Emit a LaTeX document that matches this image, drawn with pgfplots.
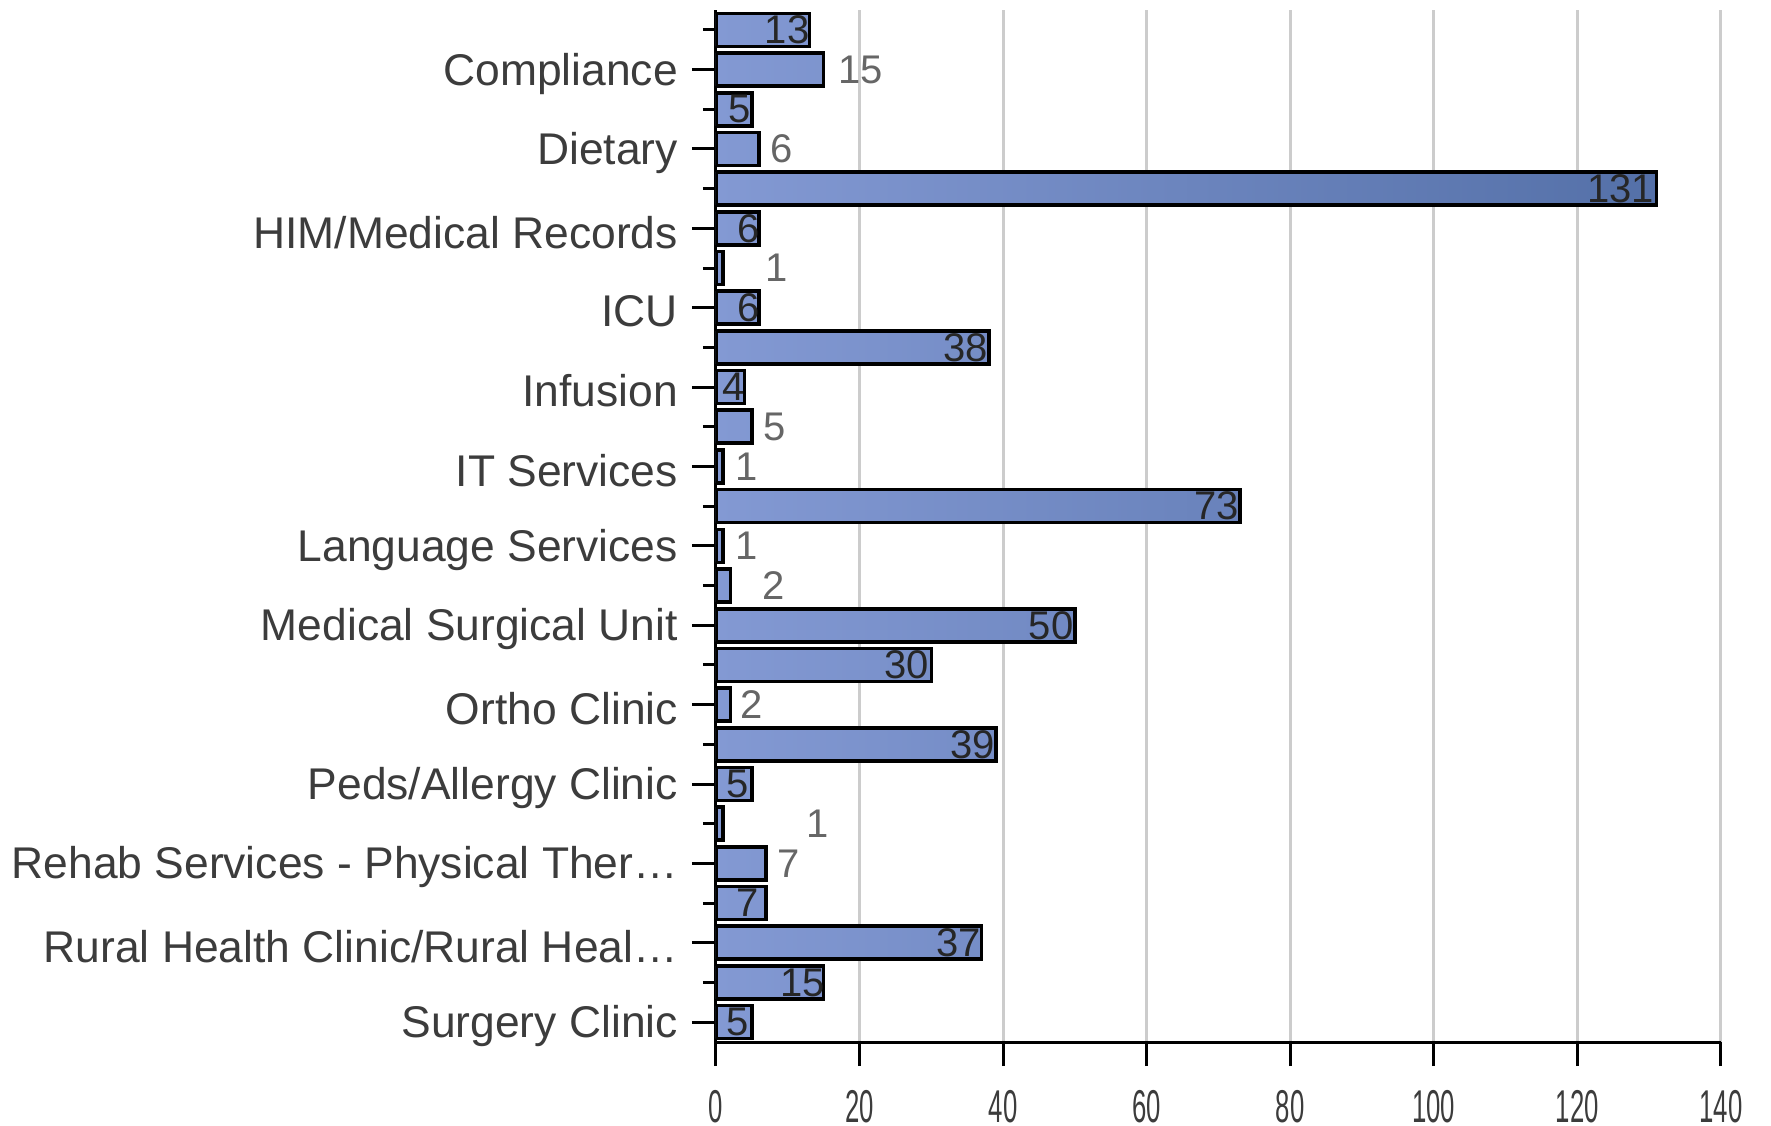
\documentclass[border=0pt]{standalone}
\usepackage{fontspec}
\setmainfont{Liberation Sans}
\usepackage{graphicx}
\usepackage{pgfplots}
\usepackage{pgfplotstable}
\pgfplotsset{compat=1.18}

\definecolor{barL}{HTML}{8399D3}
\definecolor{barR}{HTML}{5470A8}
\definecolor{gridc}{HTML}{CCCCCC}
\definecolor{txt}{HTML}{3C3C3C}
\definecolor{tickgrey}{HTML}{8C8C8C}

% one row per bar, top to bottom
\pgfplotstableread{
y x
0 13
1 15
2 5
3 6
4 131
5 6
6 1
7 6
8 38
9 4
10 5
11 1
12 73
13 1
14 2
15 50
16 30
17 2
18 39
19 5
20 1
21 7
22 7
23 37
24 15
25 5
}\bars

% value labels drawn on the bar end
\pgfplotstableread{
y x lbl
0 9.9 13
2 3.3 5
4 126.0 131
5 4.6 6
7 4.6 6
8 34.8 38
9 2.5 4
12 69.7 73
15 46.7 50
16 26.6 30
18 35.7 39
19 3.0 5
22 4.4 7
23 33.8 37
24 12.1 15
25 3.0 5
}\inlabels

% value labels set beside the bar
\pgfplotstableread{
y x lbl
1 20.1 15
3 9.1 6
6 8.5 1
10 8.2 5
11 4.2 1
13 4.2 1
14 8.0 2
17 5.0 2
20 14.2 1
21 10.1 7
}\outlabels

\begin{document}
\begin{tikzpicture}
\useasboundingbox (-179pt,-21pt) rectangle (263.75pt,260.5pt);
\begin{axis}[
  at={(0,0)}, anchor=south west,
  scale only axis, width=251.25pt, height=258pt,
  xmin=0, xmax=140, ymin=-0.5, ymax=25.5, y dir=reverse,
  axis x line*=bottom, axis y line*=left,
  axis line style={line width=0.75pt, -},
  xtick={0,20,...,140},
  xmajorgrids, grid style={gridc, line width=0.75pt},
  tick align=outside,
  xtick style={black, line width=0.75pt},
  /pgf/number format/assume math mode=true,
  x tick label style={font=\fontsize{11.5}{12}\selectfont, text=txt, yshift=-2.5pt},
  xticklabel={\scalebox{0.56}[1]{\pgfmathprintnumber{\tick}}},
  ytick={1,3,...,25},
  yticklabels={{Compliance}, {Dietary}, {HIM/Medical Records}, {ICU}, {Infusion},
    {IT Services}, {Language Services}, {Medical Surgical Unit}, {Ortho Clinic},
    {Peds/Allergy Clinic}, {Rehab Services - Physical Ther\ldots},
    {Rural Health Clinic/Rural Heal\ldots}, {Surgery Clinic}},
  ytick style={black, line width=0.75pt},
  y tick label style={font=\fontsize{11.1}{12}\selectfont, text=txt, yshift=-1pt},
  major tick length=6pt,
  extra y ticks={0,2,...,24},
  extra y tick labels={},
  extra y tick style={major tick length=3.25pt, tick style={tickgrey, line width=0.75pt}},
]
\addplot[xbar, bar width=8.25pt, draw=black, line width=0.9pt,
  left color=barL, right color=barR] table[x=x, y=y] {\bars};
\addplot[only marks, mark=none, nodes near coords, point meta=explicit symbolic,
  nodes near coords style={anchor=center, font=\fontsize{10}{12}\selectfont, text=black!85}]
  table[x=x, y=y, meta=lbl] {\inlabels};
\addplot[only marks, mark=none, nodes near coords, point meta=explicit symbolic,
  nodes near coords style={anchor=center, font=\fontsize{10}{12}\selectfont, text=black!60}]
  table[x=x, y=y, meta=lbl] {\outlabels};
\end{axis}
\end{tikzpicture}
\end{document}
